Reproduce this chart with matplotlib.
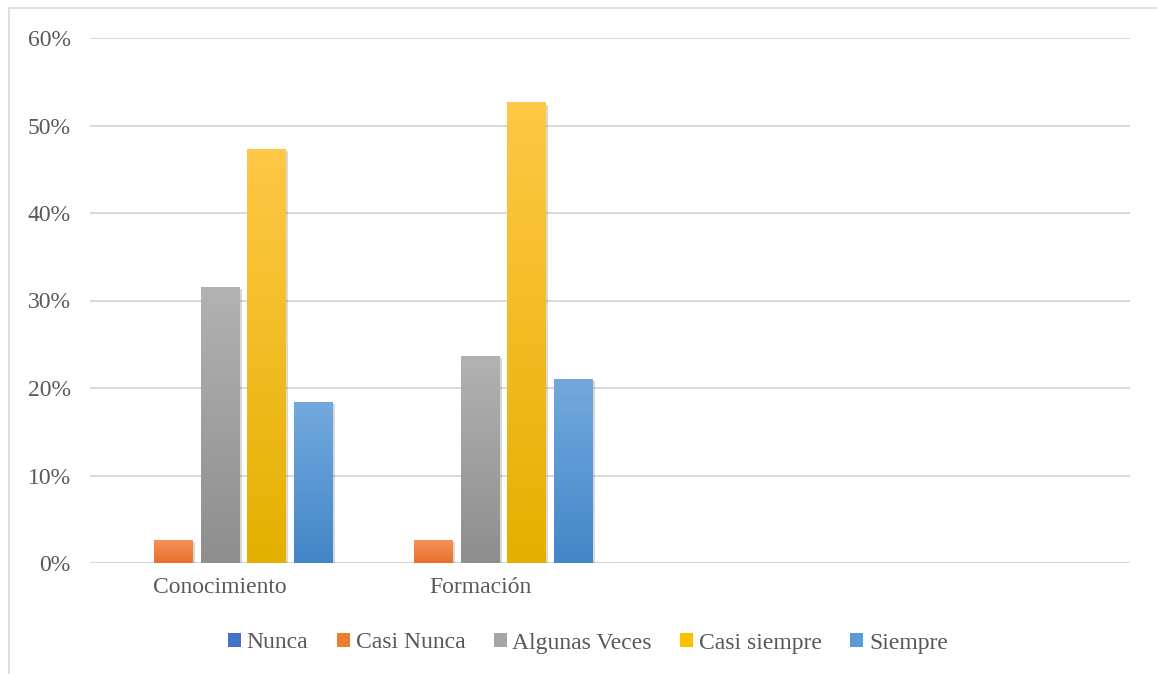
import numpy as np
import matplotlib.pyplot as plt
from matplotlib.patches import Patch
from matplotlib.colors import LinearSegmentedColormap
import matplotlib.patheffects as pe
from matplotlib.lines import Line2D

categories = ['Conocimiento', 'Formación', '', '']
series = ['Nunca', 'Casi Nunca', 'Algunas Veces', 'Casi siempre', 'Siempre']

# shares per answer (fraction of respondents), empty categories left at 0
nunca = [0.0, 0.0, 0.0, 0.0]
casi_nunca = [0.0263, 0.0263, 0.0, 0.0]
algunas_veces = [0.3158, 0.2368, 0.0, 0.0]
casi_siempre = [0.4737, 0.5263, 0.0, 0.0]
siempre = [0.1842, 0.2105, 0.0, 0.0]

values = [nunca, casi_nunca, algunas_veces, casi_siempre, siempre]
colors_top = ['#5B86D6', '#F4945C', '#B2B2B2', '#FFC846', '#73A9DE']
colors_bot = ['#3A64B4', '#E8702A', '#8E8E8E', '#E4B000', '#4386C8']
legend_colors = ['#4472C4', '#ED7D31', '#A5A5A5', '#FFC000', '#5B9BD5']

plt.rcParams['font.family'] = ['Liberation Serif', 'DejaVu Serif']
text_color = '#595959'

fig = plt.figure(figsize=(11.57, 6.74), dpi=100)
ax = fig.add_axes([90 / 1157, 1 - 563 / 674, 1040 / 1157, 525 / 674])

x = np.arange(len(categories))
width = 0.15
pitch = 0.18
for i, (vals, ctop, cbot) in enumerate(zip(values, colors_top, colors_bot)):
    cmap = LinearSegmentedColormap.from_list('g%d' % i, [cbot, ctop])
    offs = (i - 2) * pitch
    bars = ax.bar(x + offs, vals, width, color=cbot, zorder=2,
                  path_effects=[pe.SimplePatchShadow(offset=(1.5, -1.5), alpha=0.15, shadow_rgbFace='black'),
                                pe.Normal()])
    for b, v in zip(bars, vals):
        if v <= 0:
            continue
        grad = np.linspace(0, 1, 100).reshape(-1, 1)
        im = ax.imshow(grad, cmap=cmap, origin='lower', aspect='auto',
                       extent=[b.get_x(), b.get_x() + b.get_width(), 0, v], zorder=3)
        im.set_clip_path(b)

ax.set_xlim(-0.5, 3.5)
ax.set_ylim(0, 0.6)
ax.set_yticks(np.arange(0, 0.61, 0.1))
ax.set_yticklabels(['%d%%' % round(t * 100) for t in np.arange(0, 0.61, 0.1)])
ax.set_xticks(x)
ax.set_xticklabels(categories)
ax.tick_params(length=0, labelsize=17, colors=text_color, pad=10)
ax.tick_params(axis='y', pad=14)
ax.yaxis.grid(True, color='#D9D9D9', linewidth=1.4, zorder=0)
ax.set_axisbelow(True)
for s in ax.spines.values():
    s.set_visible(False)
ax.axhline(0, color='#D9D9D9', linewidth=1.6, zorder=1)

handles = [Patch(facecolor=c, edgecolor='none') for c in legend_colors]
fig.legend(handles, series, loc='center', bbox_to_anchor=(588 / 1157, 1 - 643 / 674),
           ncol=5, frameon=False, fontsize=17, handlelength=0.55, handleheight=0.55,
           handletextpad=0.25, columnspacing=1.2, labelcolor=text_color)

# outer chart frame (left and top edges)
fig.add_artist(Line2D([9 / 1157, 9 / 1157], [0, 1 - 8 / 674], transform=fig.transFigure,
                      color='#D9D9D9', linewidth=1.2))
fig.add_artist(Line2D([9 / 1157, 1], [1 - 8 / 674, 1 - 8 / 674], transform=fig.transFigure,
                      color='#D9D9D9', linewidth=1.2))

fig.savefig('out.png', dpi=100)
